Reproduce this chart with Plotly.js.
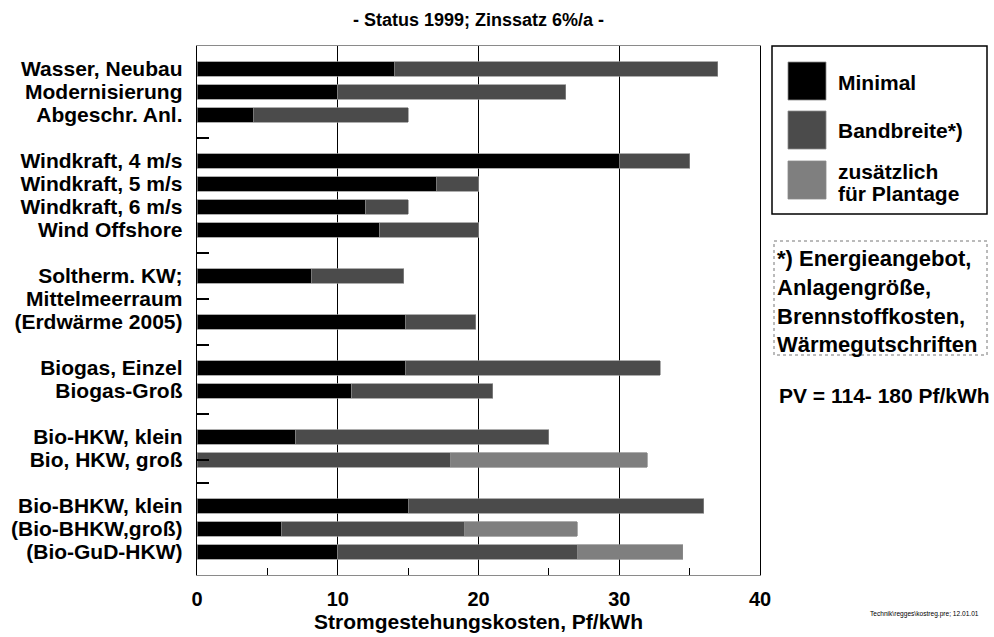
<!DOCTYPE html>
<html>
<head>
<meta charset="utf-8">
<script src="https://cdn.plot.ly/plotly-3.0.1.min.js"></script>
<style>html,body{margin:0;padding:0;background:#fff;}#chart{width:994px;height:637px;}</style>
</head>
<body>
<div id="chart"></div>
<script>
// Row order, top to bottom (spacer rows are zero-width-space strings)
var SP1 = "\u200b", SP2 = "\u200b\u200b", SP3 = "\u200b\u200b\u200b", SP4 = "\u200b\u200b\u200b\u200b", SP5 = "\u200b\u200b\u200b\u200b\u200b";
var rows = [
  "Wasser, Neubau", "Modernisierung", "Abgeschr. Anl.", SP1,
  "Windkraft, 4 m/s", "Windkraft, 5 m/s", "Windkraft, 6 m/s", "Wind Offshore", SP2,
  "Soltherm. KW;", "Mittelmeerraum", "(Erdwärme 2005)", SP3,
  "Biogas, Einzel", "Biogas-Groß", SP4,
  "Bio-HKW, klein", "Bio, HKW, groß", SP5,
  "Bio-BHKW, klein", "(Bio-BHKW,groß)", "(Bio-GuD-HKW)"
];
// Labelled rows
var labelRows = rows.filter(function (r) { return r.replace(/\u200b/g, "") !== ""; });
// Rows that carry a short separator tick on the left axis
var tickRows = [SP1, SP2, "Mittelmeerraum", SP3, SP4, "Bio, HKW, groß", SP5];

// Rows with bars
var barRows = [
  "Wasser, Neubau", "Modernisierung", "Abgeschr. Anl.",
  "Windkraft, 4 m/s", "Windkraft, 5 m/s", "Windkraft, 6 m/s", "Wind Offshore",
  "Soltherm. KW;", "(Erdwärme 2005)",
  "Biogas, Einzel", "Biogas-Groß",
  "Bio-HKW, klein", "Bio, HKW, groß",
  "Bio-BHKW, klein", "(Bio-BHKW,groß)", "(Bio-GuD-HKW)"
];
// Segment widths (Pf/kWh)
var minimal     = [14, 10, 4, 30, 17, 12, 13, 8.1, 14.8, 14.8, 11, 7, null, 15, 6, 10];
var bandbreite  = [23, 16.2, 11, 5, 3, 3, 7, 6.6, 5.0, 18.1, 10, 18, 18, 21, 13, 17];
var plantage    = [null, null, null, null, null, null, null, null, null, null, null, null, 14, null, 8, 7.5];

var seriesNames = ["Minimal", "Bandbreite*)", "zusätzlich<br>für Plantage"];
var seriesColors = ["#000000", "#4b4b4b", "#7f7f7f"];

var xTickVals = [0, 10, 20, 30, 40];
var titleText = "- Status 1999; Zinssatz 6%/a -";
var xTitleText = "Stromgestehungskosten, Pf/kWh";
var footnoteLines = ["*) Energieangebot,", "Anlagengröße,", "Brennstoffkosten,", "Wärmegutschriften"];
var pvText = "PV = 114- 180 Pf/kWh";
var fileText = "Technik\\regges\\kostreg.pre; 12.01.01";

var FONT = "Liberation Sans, Arial, sans-serif";
var W = 994, H = 637, L = 197, R = 234, T = 46, B = 62;
var PW = W - L - R, PH = H - T - B;
function px(x) { return (x - L) / PW; }
function py(y) { return (H - B - y) / PH; }

var values = [minimal, bandbreite, plantage];
var traces = values.map(function (v, i) {
  return {
    type: "bar", orientation: "h", y: barRows, x: v, name: seriesNames[i],
    marker: { color: seriesColors[i], line: { color: "#8a8a8a", width: 0.7 } },
    width: 0.61, hoverinfo: "x+y", showlegend: false
  };
});
// empty helper trace so that the separator-tick axis is drawn
traces.push({ type: "scatter", mode: "markers", x: [null], y: [null], yaxis: "y2", showlegend: false, hoverinfo: "skip" });

var shapes = [], annotations = [];
// legend box
shapes.push({ type: "rect", xref: "paper", yref: "paper", x0: px(772), x1: px(987), y0: py(46), y1: py(214),
  line: { color: "#000", width: 1.5 }, fillcolor: "rgba(0,0,0,0)" });
var swTop = [62, 111, 161];
var txtY = [[82], [130], [171, 193]];
for (var i = 0; i < 3; i++) {
  shapes.push({ type: "rect", xref: "paper", yref: "paper", x0: px(788), x1: px(826), y0: py(swTop[i]), y1: py(swTop[i] + 38),
    line: { color: "#8a8a8a", width: 0.8 }, fillcolor: seriesColors[i] });
  seriesNames[i].split("<br>").forEach(function (part, k) {
    annotations.push({ xref: "paper", yref: "paper", x: px(836), y: py(txtY[i][k]), xanchor: "left", yanchor: "middle",
      text: "<b>" + part + "</b>", showarrow: false, align: "left",
      font: { family: FONT, size: 21, color: "#000" } });
  });
}
// footnote box
shapes.push({ type: "rect", xref: "paper", yref: "paper", x0: px(774), x1: px(987), y0: py(241), y1: py(355),
  line: { color: "#777", width: 1, dash: "dot" }, fillcolor: "rgba(0,0,0,0)" });
var fnY = [258, 287, 316, 344];
footnoteLines.forEach(function (t, k) {
  annotations.push({ xref: "paper", yref: "paper", x: px(775), y: py(fnY[k]), xanchor: "left", yanchor: "middle",
    text: "<b>" + t + "</b>", showarrow: false, font: { family: FONT, size: 22, color: "#000" } });
});
annotations.push({ xref: "paper", yref: "paper", x: px(777), y: py(395), xanchor: "left", yanchor: "middle",
  text: "<b>" + pvText + "</b>", showarrow: false, font: { family: FONT, size: 21, color: "#000" } });
annotations.push({ xref: "paper", yref: "paper", x: px(981), y: py(614), xanchor: "right", yanchor: "middle",
  text: fileText, showarrow: false, font: { family: FONT, size: 6.6, color: "#000" } });

var layout = {
  width: W, height: H,
  margin: { l: L, r: R, t: T, b: B, pad: 0 },
  paper_bgcolor: "#fff", plot_bgcolor: "#fff",
  barmode: "stack",
  showlegend: false,
  title: { text: "<b>" + titleText + "</b>", x: (L + PW / 2) / W, xanchor: "center", xref: "container",
    y: 1 - 20 / H, yref: "container", yanchor: "middle", font: { family: FONT, size: 18, color: "#000" } },
  xaxis: {
    range: [0, 40], tickvals: xTickVals, ticks: "inside", ticklen: 7, tickcolor: "#000", tickwidth: 1,
    minor: { dtick: 5, tick0: 0, ticks: "inside", ticklen: 7, tickcolor: "#000", tickwidth: 1, showgrid: false },
    showgrid: true, gridcolor: "#000", gridwidth: 1.3, zeroline: false,
    showline: true, mirror: true, linecolor: "#8a8a8a", linewidth: 1,
    ticklabelstandoff: 6,
    tickfont: { family: FONT, size: 20, color: "#000", weight: "bold" },
    title: { text: "<b>" + xTitleText + "</b>", standoff: 1, font: { family: FONT, size: 21, color: "#000" } },
    fixedrange: true
  },
  yaxis: {
    type: "category", categoryorder: "array", categoryarray: rows,
    tickvals: labelRows, ticktext: labelRows,
    range: [rows.length, -1],
    ticks: "", showgrid: false, zeroline: false,
    showline: true, mirror: true, linecolor: "#000", linewidth: 1.3,
    ticklabelstandoff: 9,
    tickfont: { family: FONT, size: 21, color: "#000", weight: "bold" },
    fixedrange: true
  },
  yaxis2: {
    overlaying: "y", anchor: "x", side: "left", type: "linear",
    range: [rows.length, -1],
    tickvals: tickRows.map(function (r) { return rows.indexOf(r); }),
    ticks: "inside", ticklen: 12, tickcolor: "#000", tickwidth: 1.2,
    showticklabels: false, showgrid: false, zeroline: false, showline: false,
    fixedrange: true
  },
  shapes: shapes,
  annotations: annotations
};

Plotly.newPlot("chart", traces, layout, { displayModeBar: false, staticPlot: true });
</script>
</body>
</html>
